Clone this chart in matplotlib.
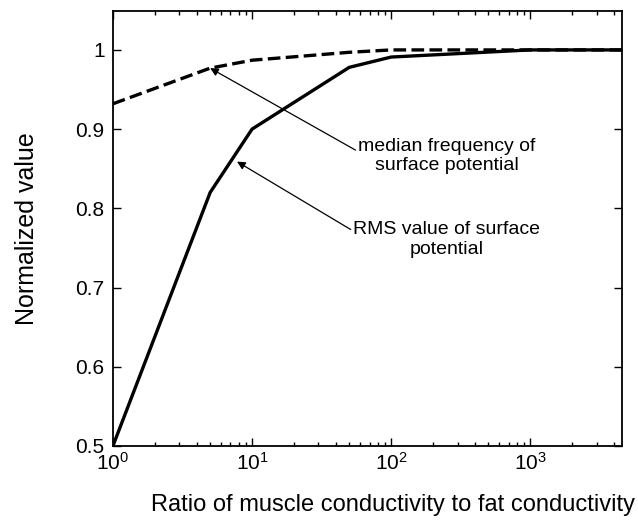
import matplotlib
matplotlib.use("Agg")
import matplotlib.pyplot as plt

plt.rcParams['font.family'] = ['Liberation Sans', 'DejaVu Sans']

ratio = [1, 5, 10, 50, 100, 1000, 5000]
rms_value = [0.50, 0.82, 0.90, 0.978, 0.991, 1.0, 1.0]
ratio_mf = [1, 5, 10, 50, 100, 1000, 5000]
median_freq = [0.932, 0.977, 0.987, 0.997, 1.0, 1.0, 1.0]
yticks = [0.5, 0.6, 0.7, 0.8, 0.9, 1.0]
ytick_labels = ['0.5', '0.6', '0.7', '0.8', '0.9', '1']

fig = plt.figure(figsize=(6.38, 5.29), dpi=100)
ax = fig.add_axes([0.177, 0.157, 0.798, 0.822])

ax.plot(ratio_mf, median_freq, color='black', lw=2.4, ls=(0, (3.8, 1.6)))
ax.plot(ratio, rms_value, color='black', lw=2.4)

ax.set_xscale('log')
ax.set_xlim(1, 10 ** 3.66)
ax.set_ylim(0.5, 1.049)
ax.set_yticks(yticks)
ax.set_yticklabels(ytick_labels)
ax.set_xticks([1, 10, 100, 1000])
ax.tick_params(which='both', direction='in', top=True, right=True, labelsize=15)
ax.tick_params(axis='y', pad=6)
ax.tick_params(axis='x', pad=4)
ax.tick_params(which='major', length=6, width=1)
ax.tick_params(which='minor', length=3, width=1)
for s in ax.spines.values():
    s.set_linewidth(1.3)

ax.set_xlabel('Ratio of muscle conductivity to fat conductivity', fontsize=17)
ax.xaxis.set_label_coords(0.55, -0.11)
ax.set_ylabel('Normalized value', fontsize=18, labelpad=26)

ax.annotate('median frequency of\nsurface potential', xy=(5, 0.977),
            xytext=(252, 0.866), textcoords='data', fontsize=14, ha='center', va='center',
            arrowprops=dict(arrowstyle='-|>', color='black', lw=0.9, mutation_scale=12,
                            shrinkA=0, shrinkB=0, relpos=(0.0, 0.62)))
ax.annotate('RMS value of surface\npotential', xy=(7.8, 0.859),
            xytext=(252, 0.761), textcoords='data', fontsize=14, ha='center', va='center',
            arrowprops=dict(arrowstyle='-|>', color='black', lw=0.9, mutation_scale=12,
                            shrinkA=0, shrinkB=0, relpos=(0.0, 0.72)))

fig.savefig('out.png', dpi=100)
